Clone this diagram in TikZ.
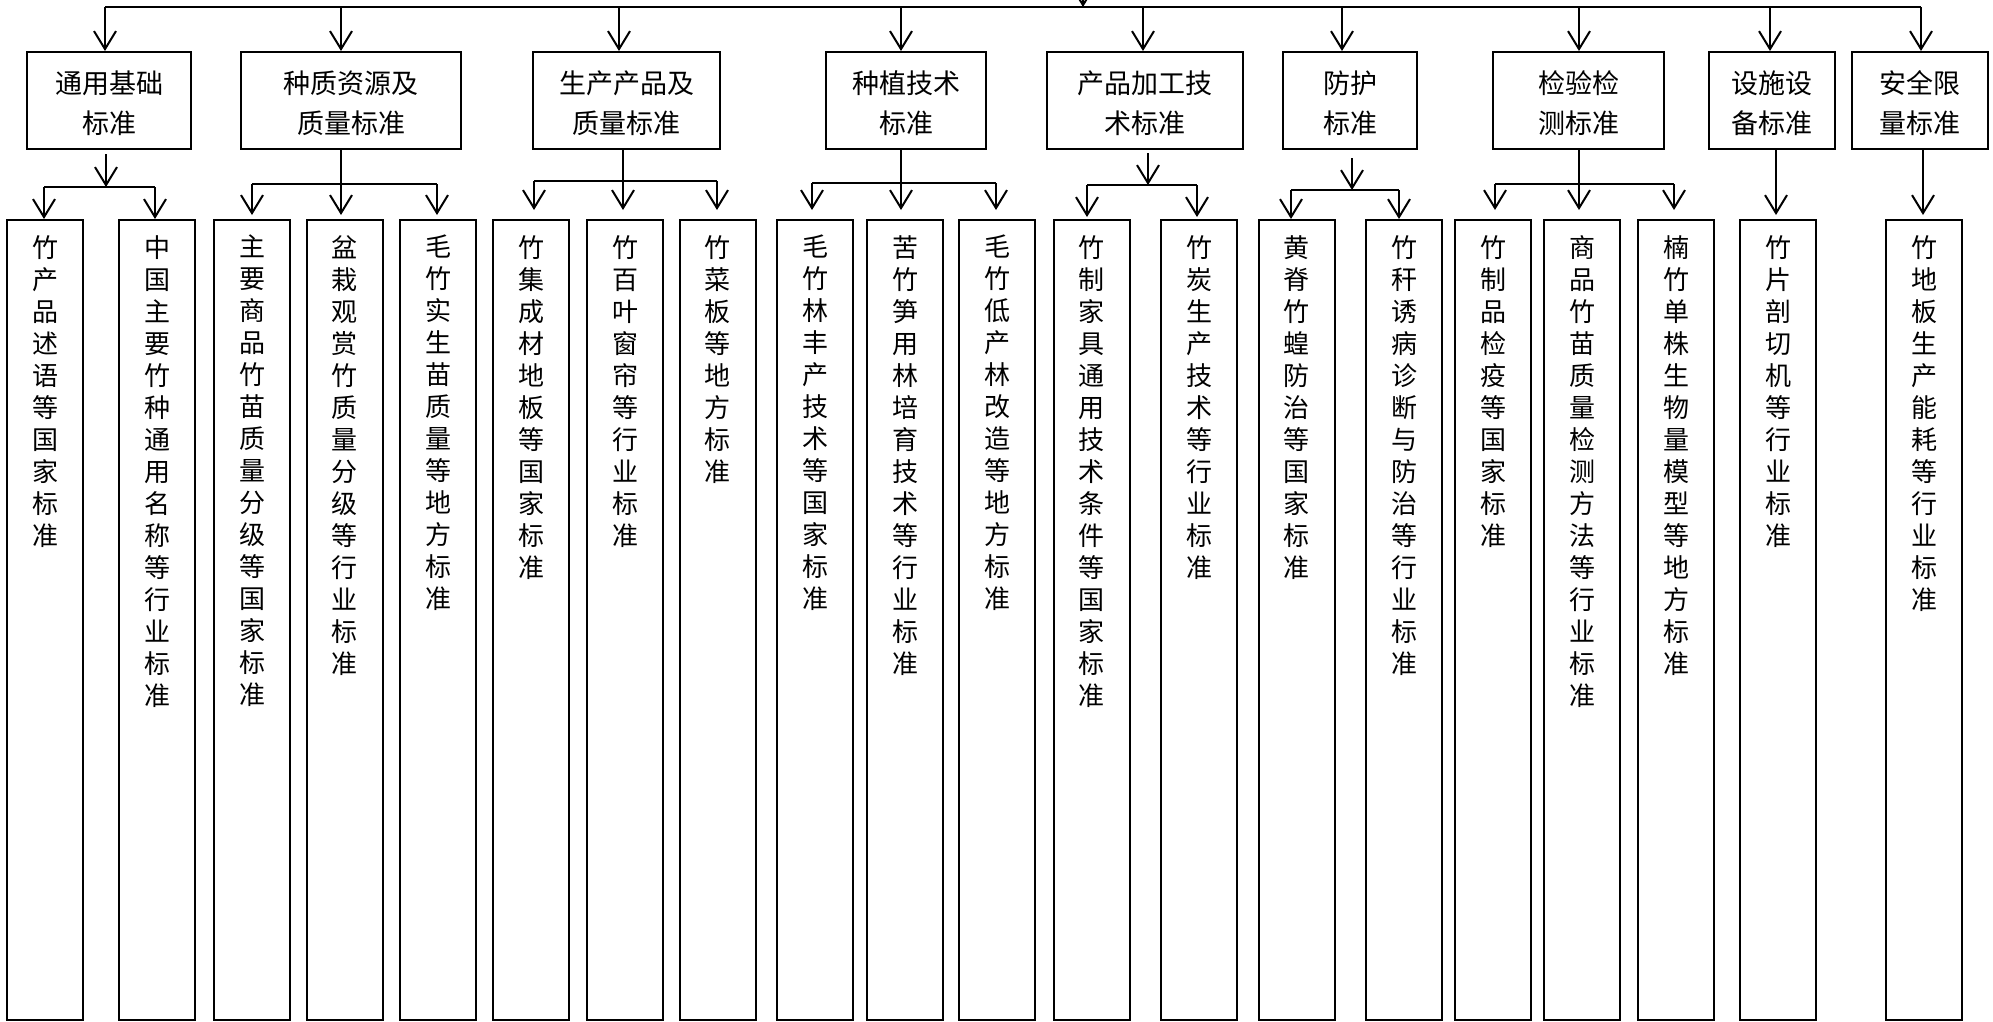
\documentclass[tikz,border=0pt]{standalone}
\usepackage{fontspec}
\newfontfamily\cjk{Noto Sans CJK SC}
\usetikzlibrary{arrows.meta,calc}
\tikzset{
  topbox/.style={draw, line width=2pt, inner sep=0pt, align=center, minimum height=97pt, text height=69pt, text depth=4pt, font=\cjk\fontsize{27}{40}\selectfont},
  leafbox/.style={draw, line width=2pt, inner sep=0pt, minimum width=76pt, minimum height=800pt, anchor=north},
  leaftext/.style={inner sep=0pt, align=center, anchor=north, font=\cjk\fontsize{26}{32}\selectfont},
  conn/.style={line width=2pt},
  arr/.style={conn, -{Straight Barb[length=18pt,width=22pt]}},
}
\begin{document}
\begin{tikzpicture}[x=1pt,y=-1pt]
\useasboundingbox (0,0) rectangle (1993,1021);

% top level boxes
\node[topbox, minimum width=164pt] (T1) at (109,100.5) {通用基础\\标准};
\node[topbox, minimum width=220pt] (T2) at (351,100.5) {种质资源及\\质量标准};
\node[topbox, minimum width=187pt] (T3) at (626.5,100.5) {生产产品及\\质量标准};
\node[topbox, minimum width=160pt] (T4) at (906,100.5) {种植技术\\标准};
\node[topbox, minimum width=196pt] (T5) at (1145,100.5) {产品加工技\\术标准};
\node[topbox, minimum width=134pt] (T6) at (1350,100.5) {防护\\标准};
\node[topbox, minimum width=171pt] (T7) at (1578.5,100.5) {检验检\\测标准};
\node[topbox, minimum width=126pt] (T8) at (1772,100.5) {设施设\\备标准};
\node[topbox, minimum width=136pt] (T9) at (1920,100.5) {安全限\\量标准};

% leaf boxes
\node[leafbox] (B1) at (45,219) {};
\node[leafbox] (B2) at (157,219) {};
\node[leafbox] (B3) at (252,219) {};
\node[leafbox] (B4) at (344.5,219) {};
\node[leafbox] (B5) at (438,219) {};
\node[leafbox] (B6) at (531,219) {};
\node[leafbox] (B7) at (625,219) {};
\node[leafbox] (B8) at (717.5,219) {};
\node[leafbox] (B9) at (815,219) {};
\node[leafbox] (B10) at (905,219) {};
\node[leafbox] (B11) at (997,219) {};
\node[leafbox] (B12) at (1091.5,219) {};
\node[leafbox] (B13) at (1199,219) {};
\node[leafbox] (B14) at (1296.5,219) {};
\node[leafbox] (B15) at (1404,219) {};
\node[leafbox] (B16) at (1493,219) {};
\node[leafbox] (B17) at (1582,219) {};
\node[leafbox] (B18) at (1676,219) {};
\node[leafbox] (B19) at (1778,219) {};
\node[leafbox] (B20) at (1924,219) {};

% leaf texts
\node[leaftext] (L1) at ([yshift=-16pt]B1.north) {竹\\产\\品\\述\\语\\等\\国\\家\\标\\准};
\node[leaftext] (L2) at ([yshift=-16pt]B2.north) {中\\国\\主\\要\\竹\\种\\通\\用\\名\\称\\等\\行\\业\\标\\准};
\node[leaftext] (L3) at ([yshift=-16pt]B3.north) {主\\要\\商\\品\\竹\\苗\\质\\量\\分\\级\\等\\国\\家\\标\\准};
\node[leaftext] (L4) at ([yshift=-16pt]B4.north) {盆\\栽\\观\\赏\\竹\\质\\量\\分\\级\\等\\行\\业\\标\\准};
\node[leaftext] (L5) at ([yshift=-16pt]B5.north) {毛\\竹\\实\\生\\苗\\质\\量\\等\\地\\方\\标\\准};
\node[leaftext] (L6) at ([yshift=-16pt]B6.north) {竹\\集\\成\\材\\地\\板\\等\\国\\家\\标\\准};
\node[leaftext] (L7) at ([yshift=-16pt]B7.north) {竹\\百\\叶\\窗\\帘\\等\\行\\业\\标\\准};
\node[leaftext] (L8) at ([yshift=-16pt]B8.north) {竹\\菜\\板\\等\\地\\方\\标\\准};
\node[leaftext] (L9) at ([yshift=-16pt]B9.north) {毛\\竹\\林\\丰\\产\\技\\术\\等\\国\\家\\标\\准};
\node[leaftext] (L10) at ([yshift=-16pt]B10.north) {苦\\竹\\笋\\用\\林\\培\\育\\技\\术\\等\\行\\业\\标\\准};
\node[leaftext] (L11) at ([yshift=-16pt]B11.north) {毛\\竹\\低\\产\\林\\改\\造\\等\\地\\方\\标\\准};
\node[leaftext] (L12) at ([yshift=-16pt]B12.north) {竹\\制\\家\\具\\通\\用\\技\\术\\条\\件\\等\\国\\家\\标\\准};
\node[leaftext] (L13) at ([yshift=-16pt]B13.north) {竹\\炭\\生\\产\\技\\术\\等\\行\\业\\标\\准};
\node[leaftext] (L14) at ([yshift=-16pt]B14.north) {黄\\脊\\竹\\蝗\\防\\治\\等\\国\\家\\标\\准};
\node[leaftext] (L15) at ([yshift=-16pt]B15.north) {竹\\秆\\诱\\病\\诊\\断\\与\\防\\治\\等\\行\\业\\标\\准};
\node[leaftext] (L16) at ([yshift=-16pt]B16.north) {竹\\制\\品\\检\\疫\\等\\国\\家\\标\\准};
\node[leaftext] (L17) at ([yshift=-16pt]B17.north) {商\\品\\竹\\苗\\质\\量\\检\\测\\方\\法\\等\\行\\业\\标\\准};
\node[leaftext] (L18) at ([yshift=-16pt]B18.north) {楠\\竹\\单\\株\\生\\物\\量\\模\\型\\等\\地\\方\\标\\准};
\node[leaftext] (L19) at ([yshift=-16pt]B19.north) {竹\\片\\剖\\切\\机\\等\\行\\业\\标\\准};
\node[leaftext] (L20) at ([yshift=-16pt]B20.north) {竹\\地\\板\\生\\产\\能\\耗\\等\\行\\业\\标\\准};

% top distribution line
\coordinate (t1) at (105,7);
\coordinate (t2) at (341,7);
\coordinate (t3) at (619,7);
\coordinate (t4) at (901,7);
\coordinate (t5) at (1143,7);
\coordinate (t6) at (1342,7);
\coordinate (t7) at (1579,7);
\coordinate (t8) at (1770,7);
\coordinate (t9) at (1921,7);
\coordinate (src) at (1083,-40);
\draw[conn] (t1) -- (t9);
\draw[arr] (src) -- (src |- t1);
\foreach \i in {1,...,9} \draw[arr] (t\i) -- (t\i |- T\i.north);

% group 1 (detached arrow, two children)
\coordinate (a1) at (106,154);
\coordinate (h1l) at (44,187);
\coordinate (h1r) at (155,187);
\draw[arr] (a1) -- (a1 |- h1l);
\draw[conn] (h1l) -- (h1r);
\draw[arr] (h1l) -- (h1l |- B1.north);
\draw[arr] (h1r) -- (h1r |- B2.north);

% group 5
\coordinate (a5) at (1148,153);
\coordinate (h5l) at (1087,185);
\coordinate (h5r) at (1197,185);
\draw[arr] (a5) -- (a5 |- h5l);
\draw[conn] (h5l) -- (h5r);
\draw[arr] (h5l) -- ($(h5l |- B12.north)+(0,-2)$);
\draw[arr] (h5r) -- ($(h5r |- B13.north)+(0,-2)$);

% group 6
\coordinate (a6) at (1352,158);
\coordinate (h6l) at (1291,190);
\coordinate (h6r) at (1399,190);
\draw[arr] (a6) -- (a6 |- h6l);
\draw[conn] (h6l) -- (h6r);
\draw[arr] (h6l) -- (h6l |- B14.north);
\draw[arr] (h6r) -- (h6r |- B15.north);

% group 2 (through line, three children)
\coordinate (v2) at (341,184);
\coordinate (h2l) at (252,184);
\coordinate (h2r) at (437,184);
\draw[arr] (v2 |- T2.south) -- ($(v2 |- B4.north)+(0,-4)$);
\draw[conn] (h2l) -- (h2r);
\draw[arr] (h2l) -- ($(h2l |- B3.north)+(0,-4)$);
\draw[arr] (h2r) -- ($(h2r |- B5.north)+(0,-4)$);

% group 3
\coordinate (v3) at (623,181);
\coordinate (h3l) at (534,181);
\coordinate (h3r) at (717,181);
\draw[arr] (v3 |- T3.south) -- ($(v3 |- B7.north)+(0,-9)$);
\draw[conn] (h3l) -- (h3r);
\draw[arr] (h3l) -- ($(h3l |- B6.north)+(0,-9)$);
\draw[arr] (h3r) -- ($(h3r |- B8.north)+(0,-9)$);

% group 4
\coordinate (v4) at (901,183);
\coordinate (h4l) at (812,183);
\coordinate (h4r) at (996,183);
\draw[arr] (v4 |- T4.south) -- ($(v4 |- B10.north)+(0,-9)$);
\draw[conn] (h4l) -- (h4r);
\draw[arr] (h4l) -- ($(h4l |- B9.north)+(0,-9)$);
\draw[arr] (h4r) -- ($(h4r |- B11.north)+(0,-9)$);

% group 7
\coordinate (v7) at (1579,184);
\coordinate (h7l) at (1495,184);
\coordinate (h7r) at (1674,184);
\draw[arr] (v7 |- T7.south) -- ($(v7 |- B17.north)+(0,-9)$);
\draw[conn] (h7l) -- (h7r);
\draw[arr] (h7l) -- ($(h7l |- B16.north)+(0,-9)$);
\draw[arr] (h7r) -- ($(h7r |- B18.north)+(0,-9)$);

% groups 8, 9
\coordinate (v8) at (1776,0);
\coordinate (v9) at (1923,0);
\draw[arr] (v8 |- T8.south) -- ($(v8 |- B19.north)+(0,-4)$);
\draw[arr] (v9 |- T9.south) -- ($(v9 |- B20.north)+(0,-4)$);
\end{tikzpicture}
\end{document}
